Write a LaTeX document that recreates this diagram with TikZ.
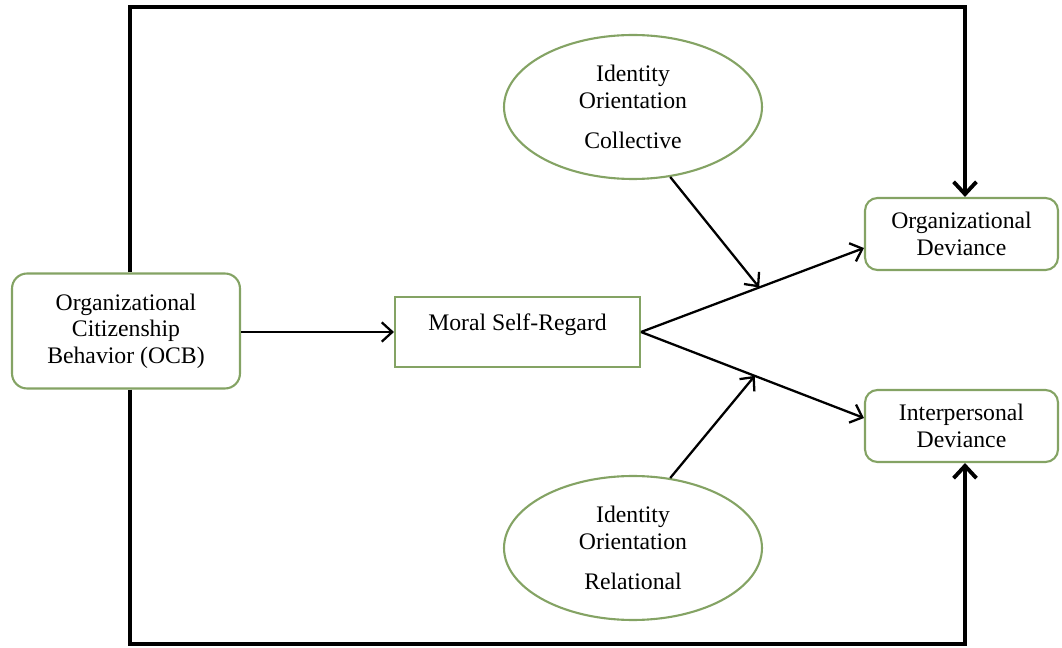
\documentclass[tikz,border=0pt]{standalone}
\usepackage{fontspec}
\setmainfont{Liberation Serif}
\usepackage{tikz}
\usetikzlibrary{shapes.geometric,arrows.meta,calc}
\definecolor{boxgreen}{RGB}{132,163,100}

\begin{document}
\begin{tikzpicture}[x=0.02cm,y=-0.02cm,font=\fontsize{13.5}{15}\selectfont,
  rbox/.style={draw=boxgreen,line width=1.2pt,rounded corners=0.25cm,align=center,inner sep=0pt},
  sqbox/.style={draw=boxgreen,line width=1.2pt,inner sep=0pt},
  oval/.style={draw=boxgreen,line width=1.2pt,ellipse,align=center,inner sep=0pt},
  arr/.style={line width=1.3pt,-{Straight Barb[length=6pt,width=11pt]}},
  frame/.style={line width=2.2pt,-{Straight Barb[length=7pt,width=13pt]}}]
\useasboundingbox (0,0) rectangle (1062,648);
\node[rbox,minimum width=4.56cm,minimum height=2.3cm,rounded corners=0.3cm] (ocb) at (126,331) {Organizational\\Citizenship\\Behavior (OCB)};
\node[sqbox,minimum width=4.9cm,minimum height=1.4cm,text depth=11pt] (msr) at (517.5,332) {Moral Self-Regard};
\node[oval,minimum width=5.16cm,minimum height=2.88cm] (coll) at (633,107) {Identity\\Orientation\\[8pt]Collective};
\node[oval,minimum width=5.16cm,minimum height=2.88cm] (rel) at (633,548) {Identity\\Orientation\\[8pt]Relational};
\node[rbox,minimum width=3.86cm,minimum height=1.44cm] (od) at (961.5,234) {Organizational\\Deviance};
\node[rbox,minimum width=3.86cm,minimum height=1.44cm] (ind) at (961.5,426) {Interpersonal\\Deviance};
\coordinate (tl) at ([xshift=0.08cm]ocb.north |- 0,7);
\coordinate (tr) at ([xshift=0.07cm]od.north |- 0,7);
\coordinate (bl) at ([xshift=0.08cm]ocb.south |- 0,644);
\coordinate (br) at ([xshift=0.07cm]ind.south |- 0,644);
\draw[frame] (ocb.north -| tl) -- (tl) -- (tr) -- (od.north -| tr);
\draw[frame] (ocb.south -| bl) -- (bl) -- (br) -- (ind.south -| br);
\draw[arr] (ocb.east |- msr.west) -- (msr.west);
\coordinate (odin) at ($(od.west)+(0,14)$);
\coordinate (indin) at ($(ind.west)+(0,-8)$);
\draw[arr] (msr.east) -- (odin);
\draw[arr] (msr.east) -- (indin);
\coordinate (m1) at ($(msr.east)!0.53!(odin)$);
\coordinate (m2) at ($(msr.east)!0.51!(indin)$);
\draw[arr] (coll.-62) -- (m1);
\draw[arr] (rel.62) -- (m2);
\end{tikzpicture}
\end{document}
